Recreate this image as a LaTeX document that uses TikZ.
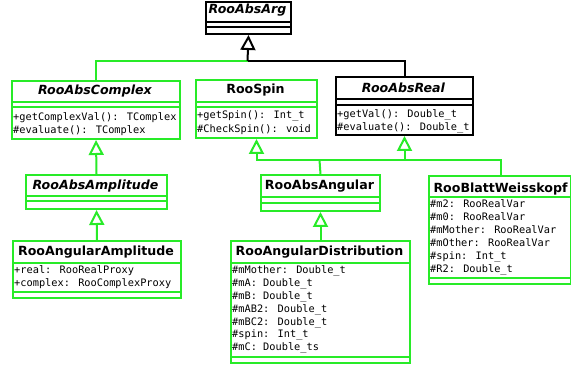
\documentclass[tikz,border=0pt]{standalone}
\usepackage{fontspec}
\setmainfont{DejaVu Sans}
\newfontfamily\monofont{DejaVu Sans Mono}
\usetikzlibrary{arrows.meta}
\definecolor{umlgreen}{RGB}{40,235,40}
\tikzset{
  classbox/.style={draw, line width=2pt, inner sep=0pt, anchor=north west, fill=white},
  greenbox/.style={classbox, draw=umlgreen},
  blackbox/.style={classbox, draw=black},
  sepline/.style={line width=2pt},
  titletext/.style={anchor=base, inner sep=0pt, font=\fontsize{12.6}{14}\selectfont\bfseries},
  abstracttext/.style={titletext, font=\fontsize{12.6}{14}\selectfont\bfseries\itshape},
  member/.style={anchor=base west, inner sep=0pt, font=\fontsize{10.3}{12}\monofont},
  link/.style={line width=2pt},
  inherit/.style={link, -{Triangle[open, length=15pt, width=15pt, line width=2pt]}}
}
\begin{document}
\begin{tikzpicture}[x=1pt, y=-1pt]
\useasboundingbox (0,0) rectangle (571,366);
\fill[white] (0,0) rectangle (571,366);

% ---------------- RooAbsArg ----------------
\node[blackbox, minimum width=85pt, minimum height=32pt] (arg) at (205,1) {};
\draw[sepline] (205,22) -- (290,22);
\draw[sepline] (205,27.5) -- (290,27.5);
\node[abstracttext] (argT) at (247.5,14) {RooAbsArg};

% ---------------- RooAbsComplex ----------------
\node[greenbox, minimum width=168pt, minimum height=58pt] (cplx) at (11,80) {};
\draw[sepline, umlgreen] (11,102) -- (179,102);
\draw[sepline, umlgreen] (11,107) -- (179,107);
\node[abstracttext] (cplxT) at (95,95) {RooAbsComplex};
\node[member] (cplxM1) at (13,120.4) {+getComplexVal(): TComplex};
\node[member] (cplxM2) at (13,133.6) {\#evaluate(): TComplex};

% ---------------- RooSpin ----------------
\node[greenbox, minimum width=121pt, minimum height=58pt] (spin) at (195,79) {};
\draw[sepline, umlgreen] (195,102) -- (316,102);
\draw[sepline, umlgreen] (195,107) -- (316,107);
\node[titletext] (spinT) at (255.5,94) {RooSpin};
\node[member] (spinM1) at (197,118.7) {+getSpin(): Int\_t};
\node[member] (spinM2) at (197,132.4) {\#CheckSpin(): void};

% ---------------- RooAbsReal ----------------
\node[blackbox, minimum width=137pt, minimum height=58pt] (real) at (335,76) {};
\draw[sepline] (335,99) -- (472,99);
\draw[sepline] (335,105) -- (472,105);
\node[abstracttext] (realT) at (403.5,92.7) {RooAbsReal};
\node[member] (realM1) at (337,117.7) {+getVal(): Double\_t};
\node[member] (realM2) at (337,130.7) {\#evaluate(): Double\_t};

% ---------------- RooAbsAmplitude ----------------
\node[greenbox, minimum width=141pt, minimum height=34pt] (ampl) at (25,174) {};
\draw[sepline, umlgreen] (25,196) -- (166,196);
\draw[sepline, umlgreen] (25,201.5) -- (166,201.5);
\node[abstracttext] (amplT) at (95.5,189.3) {RooAbsAmplitude};

% ---------------- RooAbsAngular ----------------
\node[greenbox, minimum width=119pt, minimum height=36pt] (angl) at (260,174) {};
\draw[sepline, umlgreen] (260,197) -- (379,197);
\draw[sepline, umlgreen] (260,203) -- (379,203);
\node[titletext] (anglT) at (319.5,190) {RooAbsAngular};

% ---------------- RooBlattWeisskopf ----------------
\node[greenbox, minimum width=142pt, minimum height=108pt] (blatt) at (428,175) {};
\draw[sepline, umlgreen] (428,197) -- (570,197);
\draw[sepline, umlgreen] (428,278) -- (570,278);
\node[titletext] (blattT) at (500.5,192.7) {RooBlattWeisskopf};
\node[member] (blattM1) at (430,207.7) {\#m2: RooRealVar};
\node[member] (blattM2) at (430,220.7) {\#m0: RooRealVar};
\node[member] (blattM3) at (430,233.7) {\#mMother: RooRealVar};
\node[member] (blattM4) at (430,246.7) {\#mOther: RooRealVar};
\node[member] (blattM5) at (430,259.7) {\#spin: Int\_t};
\node[member] (blattM6) at (430,272.7) {\#R2: Double\_t};

% ---------------- RooAngularAmplitude ----------------
\node[greenbox, minimum width=168pt, minimum height=57pt] (aamp) at (12,240) {};
\draw[sepline, umlgreen] (12,263) -- (180,263);
\draw[sepline, umlgreen] (12,292) -- (180,292);
\node[titletext] (aampT) at (96,255.7) {RooAngularAmplitude};
\node[member] (aampM1) at (14,273.2) {+real: RooRealProxy};
\node[member] (aampM2) at (14,286.2) {+complex: RooComplexProxy};

% ---------------- RooAngularDistribution ----------------
\node[greenbox, minimum width=179pt, minimum height=122pt] (adist) at (230,240) {};
\draw[sepline, umlgreen] (230,263) -- (409,263);
\draw[sepline, umlgreen] (230,357) -- (409,357);
\node[titletext] (adistT) at (319.5,256) {RooAngularDistribution};
\node[member] (adistM1) at (232,274.0) {\#mMother: Double\_t};
\node[member] (adistM2) at (232,286.8) {\#mA: Double\_t};
\node[member] (adistM3) at (232,299.6) {\#mB: Double\_t};
\node[member] (adistM4) at (232,312.4) {\#mAB2: Double\_t};
\node[member] (adistM5) at (232,325.2) {\#mBC2: Double\_t};
\node[member] (adistM6) at (232,338.0) {\#spin: Int\_t};
\node[member] (adistM7) at (232,350.8) {\#mC: Double\_ts};

% ---------------- generalisation links ----------------
\coordinate (topJoin) at (247.5,61);
\draw[link, umlgreen] (cplx.north) |- (topJoin);
\draw[link] (real.north) |- (topJoin);
\draw[inherit] (topJoin) -- (arg.south);

\draw[inherit, umlgreen] (ampl.north) -- (cplx.south);
\draw[inherit, umlgreen] (aamp.north) -- (ampl.south);

\coordinate (midJoin) at (319.5,160);
\coordinate (blattUp) at (501,175);
\draw[link, umlgreen] (angl.north) -- (midJoin);
\draw[link, umlgreen] (blattUp) |- (midJoin);
\draw[inherit, umlgreen] (midJoin) -| (spin.south);
\draw[inherit, umlgreen] (midJoin) -| (real.south);

\draw[inherit, umlgreen] (adist.north) -- (angl.south);
\end{tikzpicture}
\end{document}
